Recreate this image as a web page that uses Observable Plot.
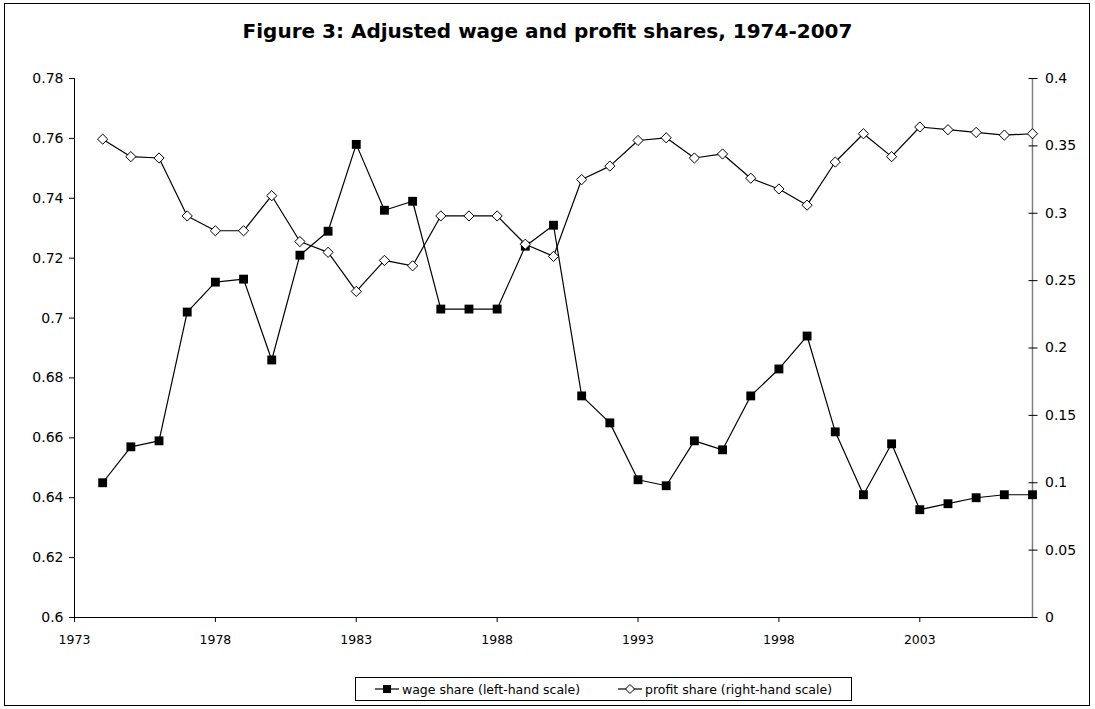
<!DOCTYPE html>
<html>
<head>
<meta charset="utf-8">
<script src="https://cdn.jsdelivr.net/npm/d3@7"></script>
<script src="https://cdn.jsdelivr.net/npm/@observablehq/plot@0.6"></script>
<style>
  html, body { margin: 0; padding: 0; background: #fff; }
  #wrap { position: relative; width: 1095px; height: 709px; overflow: hidden; font-family: "DejaVu Sans", sans-serif; }
  #frame { position: absolute; left: 4px; top: 3px; width: 1086px; height: 703px; border: 1px solid #000; box-sizing: border-box; }
  #title { position: absolute; left: 0; top: 19px; width: 1095px; text-align: center; font-weight: bold; font-size: 20px; color: #000; }
  #chart { position: absolute; left: 0; top: 60px; }
  #legend { position: absolute; left: 355px; top: 677px; width: 497px; height: 24px; border: 1px solid #000; box-sizing: border-box; display: flex; align-items: center; justify-content: space-around; font-size: 12.5px; color: #000; }
  #legend span.item { display: flex; align-items: center; gap: 3px; }
</style>
</head>
<body>
<div id="wrap">
  <div id="frame"></div>
  <div id="title">Figure 3: Adjusted wage and profit shares, 1974-2007</div>
  <div id="chart"></div>
  <div id="legend">
    <span class="item"><svg width="24" height="12"><line x1="0" y1="6" x2="24" y2="6" stroke="#000" stroke-width="1.2"/><rect x="8" y="2" width="8" height="8" fill="#000"/></svg>wage share (left-hand scale)</span>
    <span class="item"><svg width="24" height="12"><line x1="0" y1="6" x2="24" y2="6" stroke="#000" stroke-width="1.2"/><path d="M12,1.5L16.5,6L12,10.5L7.5,6Z" fill="#fff" stroke="#000" stroke-width="1"/></svg>profit share (right-hand scale)</span>
  </div>
</div>
<script>
const years = [1974,1975,1976,1977,1978,1979,1980,1981,1982,1983,1984,1985,1986,1987,1988,1989,1990,
  1991,1992,1993,1994,1995,1996,1997,1998,1999,2000,2001,2002,2003,2004,2005,2006,2007];
const wageShare = [0.645,0.657,0.659,0.702,0.712,0.713,0.686,0.721,0.729,0.758,0.736,0.739,0.703,0.703,0.703,0.724,0.731,
  0.674,0.665,0.646,0.644,0.659,0.656,0.674,0.683,0.694,0.662,0.641,0.658,0.636,0.638,0.640,0.641,0.641];
const profitShare = [0.355,0.342,0.341,0.298,0.287,0.287,0.313,0.279,0.271,0.242,0.265,0.261,0.298,0.298,0.298,0.277,0.268,
  0.325,0.335,0.354,0.356,0.341,0.344,0.326,0.318,0.306,0.338,0.359,0.342,0.364,0.362,0.360,0.358,0.359];
const xTicks = [1973,1978,1983,1988,1993,1998,2003];
const leftTicks = [0.6,0.62,0.64,0.66,0.68,0.7,0.72,0.74,0.76,0.78];
const leftLabels = ["0.6","0.62","0.64","0.66","0.68","0.7","0.72","0.74","0.76","0.78"];
const rightTicks = [0,0.05,0.1,0.15,0.2,0.25,0.3,0.35,0.4];
const rightLabels = ["0","0.05","0.1","0.15","0.2","0.25","0.3","0.35","0.4"];

const leftMin = 0.6, leftMax = 0.78, rightMin = 0, rightMax = 0.4;
const toLeft = v => leftMin + (v - rightMin) * (leftMax - leftMin) / (rightMax - rightMin);

const data = years.map((y, i) => ({year: y, wage: wageShare[i], profit: profitShare[i]}));

const chart = Plot.plot({
  width: 1095,
  height: 597,
  marginLeft: 74,
  marginRight: 63,
  marginTop: 18,
  marginBottom: 40,
  style: {fontFamily: "DejaVu Sans, sans-serif", fontSize: "14px", color: "#000", background: "transparent"},
  x: {domain: [1973, 2007]},
  y: {domain: [leftMin, leftMax]},
  marks: [
    Plot.ruleY([leftMin], {stroke: "#000", strokeWidth: 1}),
    Plot.ruleX([1973], {stroke: "#000", strokeWidth: 1}),
    Plot.ruleX([2007], {stroke: "#808080", strokeWidth: 1.5}),
    Plot.axisX(xTicks, {anchor: "bottom", tickSize: 5, tickPadding: 13, tickFormat: d => String(d), label: null, fontSize: 12.5}),
    Plot.axisY(leftTicks, {anchor: "left", tickSize: 5, tickPadding: 6, tickFormat: (d, i) => leftLabels[i], label: null, fontSize: 14}),
    Plot.axisY(rightTicks.map(toLeft), {anchor: "right", tickSize: 9, dx: -4.5, tickPadding: 8, tickFormat: (d, i) => rightLabels[i], label: null, fontSize: 14}),
    Plot.line(data, {x: "year", y: "wage", stroke: "#000", strokeWidth: 1.2}),
    Plot.dot(data, {x: "year", y: "wage", symbol: "square", r: 5, fill: "#000", stroke: "none"}),
    Plot.line(data, {x: "year", y: d => toLeft(d.profit), stroke: "#000", strokeWidth: 1.2}),
    Plot.dot(data, {x: "year", y: d => toLeft(d.profit), symbol: "diamond2", r: 4.6, fill: "#fff", stroke: "#000", strokeWidth: 1})
  ]
});
document.getElementById("chart").appendChild(chart);
</script>
</body>
</html>
